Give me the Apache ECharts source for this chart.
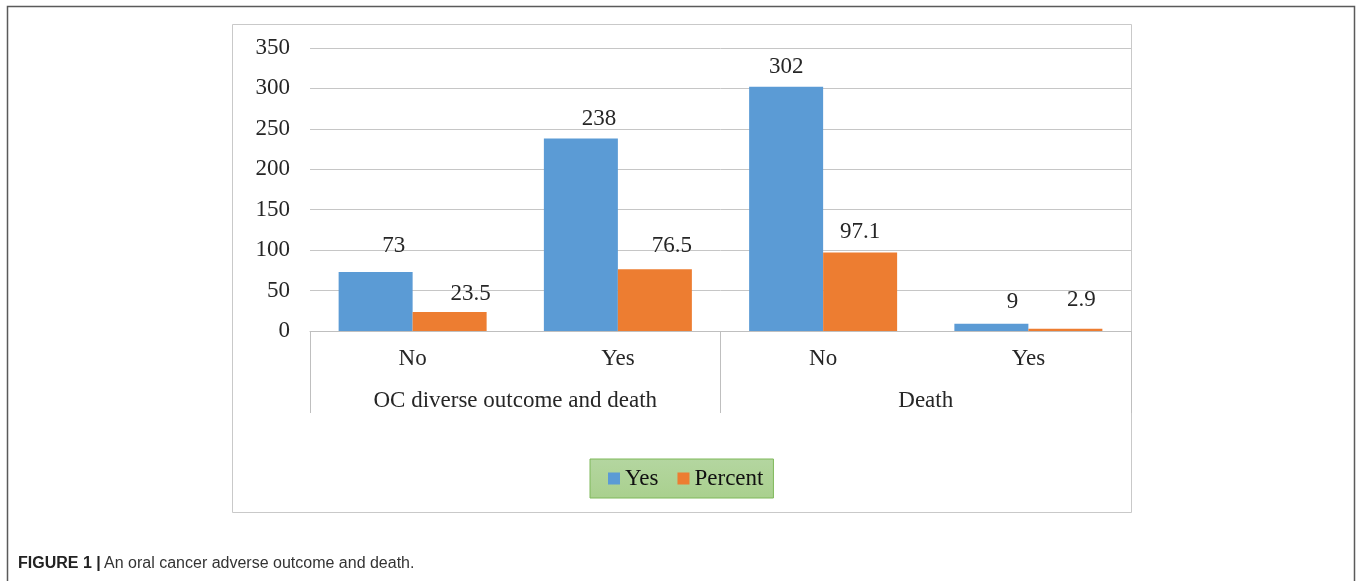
<!DOCTYPE html>
<html>
<head>
<meta charset="utf-8">
<script src="https://cdn.jsdelivr.net/npm/echarts@6/dist/echarts.min.js"></script>
<style>
  html, body { margin: 0; padding: 0; background: #ffffff; }
  #chart { width: 1357px; height: 581px; }
</style>
</head>
<body>
<div id="chart"></div>
<script>
// Categories along the bottom axis and the two outcome groups beneath them
const categories = ['No', 'Yes', 'No', 'Yes'];
const groups = ['OC diverse outcome and death', 'Death'];

// Series values
const yesCounts = [73, 238, 302, 9];
const percents = [23.5, 76.5, 97.1, 2.9];

// Value axis ticks
const yMin = 0;
const yMax = 350;
const yStep = 50;

// Styling: fonts, colours and small nudges for the value labels
const serif = '"Liberation Serif", "Times New Roman", serif';
const sans = '"Liberation Sans", Arial, sans-serif';
const blue = '#5b9bd5';
const orange = '#ed7d31';
const yesLabelNudge = [[18, -6], [18, 1], [0, 1], [21, -1]];
const percentLabelNudge = [[21, 2], [17, -3], [0, 0], [16, -8]];

const chart = echarts.init(document.getElementById('chart'), null, { renderer: 'canvas' });

const barLabel = {
  show: true,
  position: 'top',
  distance: 9,
  fontFamily: serif,
  fontSize: 23,
  color: '#262626'
};

function withLabelNudges(values, nudges) {
  return values.map((v, i) => ({ value: v, label: { offset: nudges[i] } }));
}

chart.setOption({
  animation: false,
  backgroundColor: '#ffffff',
  grid: { left: 310, right: 226, top: 48, bottom: 250, containLabel: false },
  legend: {
    data: ['Yes', 'Percent'],
    left: 590,
    top: 459,
    icon: 'rect',
    itemWidth: 12,
    itemHeight: 12,
    itemGap: 19,
    padding: [8, 10, 8, 18],
    backgroundColor: {
      type: 'linear', x: 0, y: 0, x2: 0, y2: 1,
      colorStops: [{ offset: 0, color: '#b4d6a0' }, { offset: 1, color: '#a9d08e' }]
    },
    borderColor: '#7fb85a',
    borderWidth: 1,
    textStyle: { fontFamily: serif, fontSize: 23, color: '#111111', padding: [0, 0, 0, 0] }
  },
  xAxis: [
    {
      type: 'category',
      data: categories,
      position: 'bottom',
      axisLine: { show: true, lineStyle: { color: '#bfbfbf', width: 1 } },
      axisTick: { show: false },
      axisLabel: { fontFamily: serif, fontSize: 23, color: '#262626', margin: 16 }
    },
    {
      type: 'category',
      data: groups,
      position: 'bottom',
      axisLine: { show: false },
      axisTick: { show: true, interval: 0, length: 82, lineStyle: { color: '#bfbfbf', width: 1 } },
      axisLabel: { fontFamily: serif, fontSize: 23, color: '#262626', margin: 58, interval: 0 }
    }
  ],
  yAxis: {
    type: 'value',
    min: yMin,
    max: yMax,
    interval: yStep,
    axisLine: { show: false },
    axisTick: { show: false },
    splitLine: { lineStyle: { color: '#c6c6c6', width: 1 } },
    axisLabel: { fontFamily: serif, fontSize: 23, color: '#262626', margin: 20 }
  },
  series: [
    {
      name: 'Yes',
      type: 'bar',
      xAxisIndex: 0,
      data: withLabelNudges(yesCounts, yesLabelNudge),
      barWidth: 74,
      barGap: '0%',
      itemStyle: { color: blue },
      label: barLabel
    },
    {
      name: 'Percent',
      type: 'bar',
      xAxisIndex: 0,
      data: withLabelNudges(percents, percentLabelNudge),
      barWidth: 74,
      barGap: '0%',
      itemStyle: { color: orange },
      label: barLabel
    }
  ],
  graphic: [
    // outer figure frame (open at the bottom edge of the page)
    {
      type: 'rect',
      silent: true,
      shape: { x: 7.5, y: 6.5, width: 1347, height: 620 },
      style: { fill: null, stroke: '#5a5a5a', lineWidth: 1.5 }
    },
    // chart area border
    {
      type: 'rect',
      silent: true,
      z: -1,
      shape: { x: 232.5, y: 24.5, width: 899, height: 488 },
      style: { fill: null, stroke: '#c9c9c9', lineWidth: 1 }
    },
    // caption
    {
      type: 'text',
      left: 18,
      top: 556,
      style: {
        text: '{b|FIGURE 1 |} {r|An oral cancer adverse outcome and death.}',
        rich: {
          b: { fontFamily: sans, fontWeight: 'bold', fontSize: 16, fill: '#222222' },
          r: { fontFamily: sans, fontSize: 16, fill: '#333333' }
        }
      }
    }
  ]
});
</script>
</body>
</html>
